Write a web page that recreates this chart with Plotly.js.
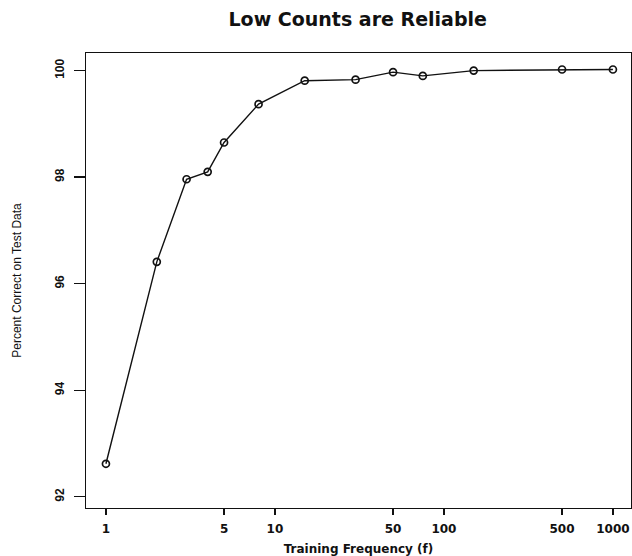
<!DOCTYPE html>
<html>
<head>
<meta charset="utf-8">
<script src="https://cdn.plot.ly/plotly-3.0.1.min.js"></script>
<style>html,body{margin:0;padding:0;background:#fff;}#chart{width:632px;height:556px;}</style>
</head>
<body>
<div id="chart"></div>
<script>
// Data
const trainingFrequency = [1, 2, 3, 4, 5, 8, 15, 30, 50, 75, 150, 500, 1000];
const percentCorrect = [92.62, 96.41, 97.96, 98.10, 98.65, 99.37, 99.81, 99.83, 99.97, 99.90, 100.00, 100.02, 100.02];
const xTickVals = [1, 5, 10, 50, 100, 500, 1000];
const xTickText = ["1", "5", "10", "50", "100", "500", "1000"];
const yTickVals = [92, 94, 96, 98, 100];
const yTickText = ["92", "94", "96", "98", "100"];

const trace = {
  x: trainingFrequency,
  y: percentCorrect,
  type: 'scatter',
  mode: 'lines+markers',
  line: {color: '#111', width: 1.4},
  marker: {symbol: 'circle-open', size: 7, color: '#111', line: {width: 1.7, color: '#111'}},
  hoverinfo: 'x+y'
};

const layout = {
  width: 632, height: 556,
  margin: {l: 86, r: 1, t: 53, b: 48},
  paper_bgcolor: '#fff', plot_bgcolor: '#fff',
  showlegend: false,
  title: {
    text: 'Low Counts are Reliable',
    font: {family: 'DejaVu Sans', size: 19, color: '#111', weight: 'bold'},
    x: 0.566, xanchor: 'center', xref: 'container',
    y: 0.965, yanchor: 'middle', yref: 'container'
  },
  xaxis: {
    type: 'log',
    range: [-0.118, 3.107],
    tickvals: xTickVals, ticktext: xTickText,
    ticks: 'outside', ticklen: 6, tickwidth: 1.5, tickcolor: '#111',
    ticklabelstandoff: 3,
    showgrid: false, zeroline: false,
    showline: true, mirror: true, linecolor: '#111', linewidth: 1.3,
    tickfont: {family: 'DejaVu Sans', size: 12, color: '#111', weight: 'bold'},
    title: {text: 'Training Frequency (f)', standoff: 22,
      font: {family: 'DejaVu Sans', size: 12, color: '#111', weight: 'bold'}}
  },
  yaxis: {
    range: [91.79, 100.33],
    tickvals: yTickVals, ticktext: yTickText,
    tickangle: -90,
    ticks: 'outside', ticklen: 11, tickwidth: 1.3, tickcolor: '#111',
    ticklabelstandoff: 5,
    showgrid: false, zeroline: false,
    showline: true, mirror: true, linecolor: '#111', linewidth: 1.3,
    tickfont: {family: 'Liberation Sans', size: 12, color: '#111', weight: 'bold'},
    title: {text: 'Percent Correct on Test Data', standoff: 28,
      font: {family: 'Liberation Sans Narrow, Liberation Sans', size: 12, color: '#111'}}
  }
};

Plotly.newPlot('chart', [trace], layout, {displayModeBar: false, staticPlot: true});
</script>
</body>
</html>
